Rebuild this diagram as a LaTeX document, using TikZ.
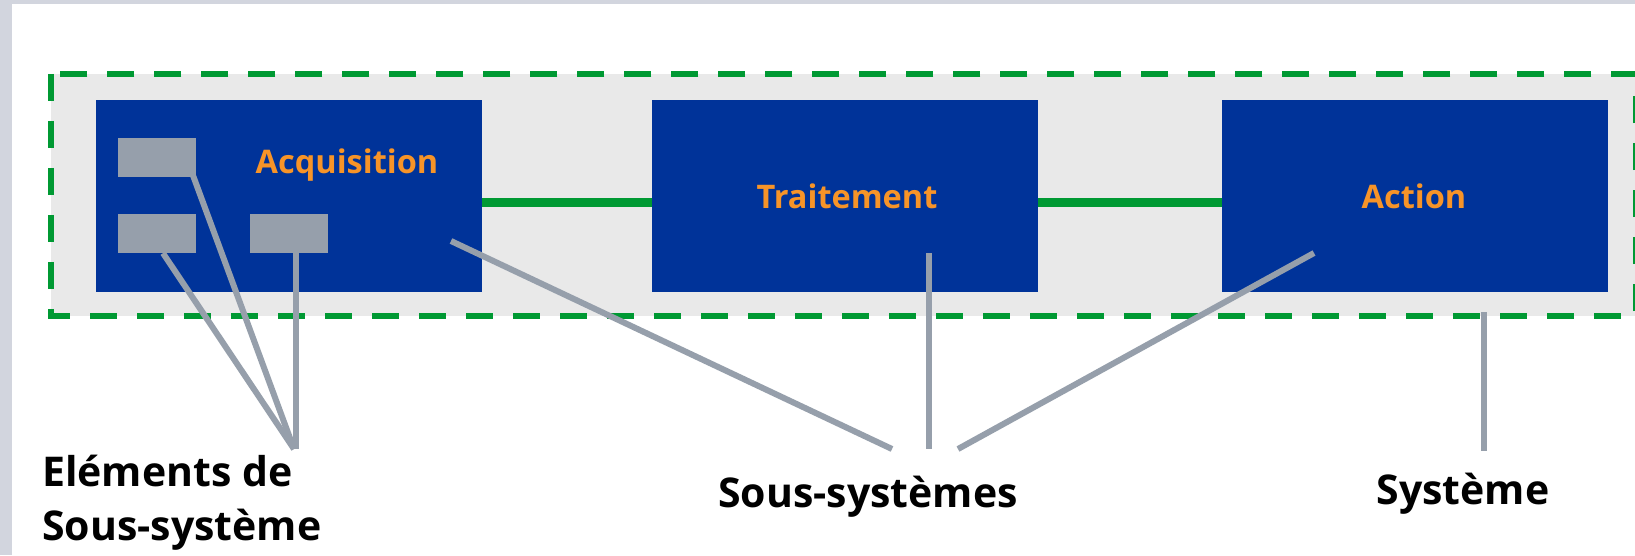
\documentclass[tikz,border=0pt]{standalone}
\usepackage{fontspec}
\setmainfont{Open Sans}
\definecolor{sysblue}{RGB}{0,51,153}
\definecolor{lblorange}{RGB}{247,148,40}
\definecolor{linkgreen}{RGB}{0,153,51}
\definecolor{pointergrey}{RGB}{150,159,171}
\definecolor{panelgrey}{RGB}{233,233,233}
\definecolor{edgegrey}{RGB}{210,213,222}
\begin{document}
\begin{tikzpicture}[x=1pt,y=-1pt,
  sysframe/.style={fill=panelgrey, draw=none, inner sep=0pt},
  sysborder/.style={draw=linkgreen, line width=6pt, dash pattern=on 27pt off 20pt},
  subsys/.style={fill=sysblue, draw=none, inner sep=0pt, minimum width=386pt, minimum height=192pt},
  elem/.style={fill=pointergrey, draw=none, inner sep=0pt, minimum width=78pt, minimum height=39pt},
  sublabel/.style={text=lblorange, font=\fontsize{32.5}{40}\selectfont\bfseries, anchor=base, inner sep=0pt},
  caption/.style={text=black, font=\fontsize{41}{54}\selectfont\bfseries, inner sep=0pt},
  link/.style={draw=linkgreen, line width=9pt},
  pointer/.style={draw=pointergrey, line width=6pt}]
\useasboundingbox (0,0) rectangle (1635,555);
\fill[edgegrey] (0,0) rectangle (1635,555);
\fill[white] (12,4) rectangle (1635,555);
\clip (0,0) rectangle (1635,555);

% system
\node[sysframe, minimum width=1585pt, minimum height=242pt] (sys) at (843.5,195) {};
\draw[sysborder] (sys.north west) rectangle (sys.south east);

% sub-systems
\node[subsys] (acq) at (289,196) {};
\node[subsys] (trt) at (845,196) {};
\node[subsys] (act) at (1415,196) {};
\draw[link] ([yshift=-6pt]acq.east) -- ([yshift=-6pt]trt.west);
\draw[link] ([yshift=-6pt]trt.east) -- ([yshift=-6pt]act.west);

\node[sublabel] (acqlbl) at (347,173) {Acquisition};
\node[sublabel] (trtlbl) at (847,208) {Traitement};
\node[sublabel] (actlbl) at (1414,208) {Action};

% elements
\node[elem] (e1) at (157,157.5) {};
\node[elem] (e2) at (157,233.5) {};
\node[elem] (e3) at (289,233.5) {};

% pointer ends
\coordinate (elemtip) at (294,449);
\coordinate (acqfrom) at (451,241);
\coordinate (trtfrom) at (929,253);
\coordinate (actfrom) at (1314,253);
\coordinate (subtipL) at (892,449);
\coordinate (subtipM) at (929,449);
\coordinate (subtipR) at (958,449);
\coordinate (systip) at (1484,451);

\draw[pointer] ([xshift=-4pt,yshift=4pt]e1.south east) -- (elemtip);
\draw[pointer] ([xshift=6pt]e2.south) -- (elemtip);
\draw[pointer] ([xshift=7pt]e3.south) -- ([xshift=2pt]elemtip);
\draw[pointer] (acqfrom) -- (subtipL);
\draw[pointer] (trtfrom) -- (subtipM);
\draw[pointer] (actfrom) -- (subtipR);
\draw[pointer] ([yshift=4pt]sys.south -| systip) -- (systip);

% captions
\node[caption, align=left, anchor=base west] (elemcap) at (42,540) {Eléments de\\Sous-système};
\node[caption, anchor=base] (subcap) at (868,507) {Sous-systèmes};
\node[caption, anchor=base] (syscap) at (1463,504) {Système};
\end{tikzpicture}
\end{document}
